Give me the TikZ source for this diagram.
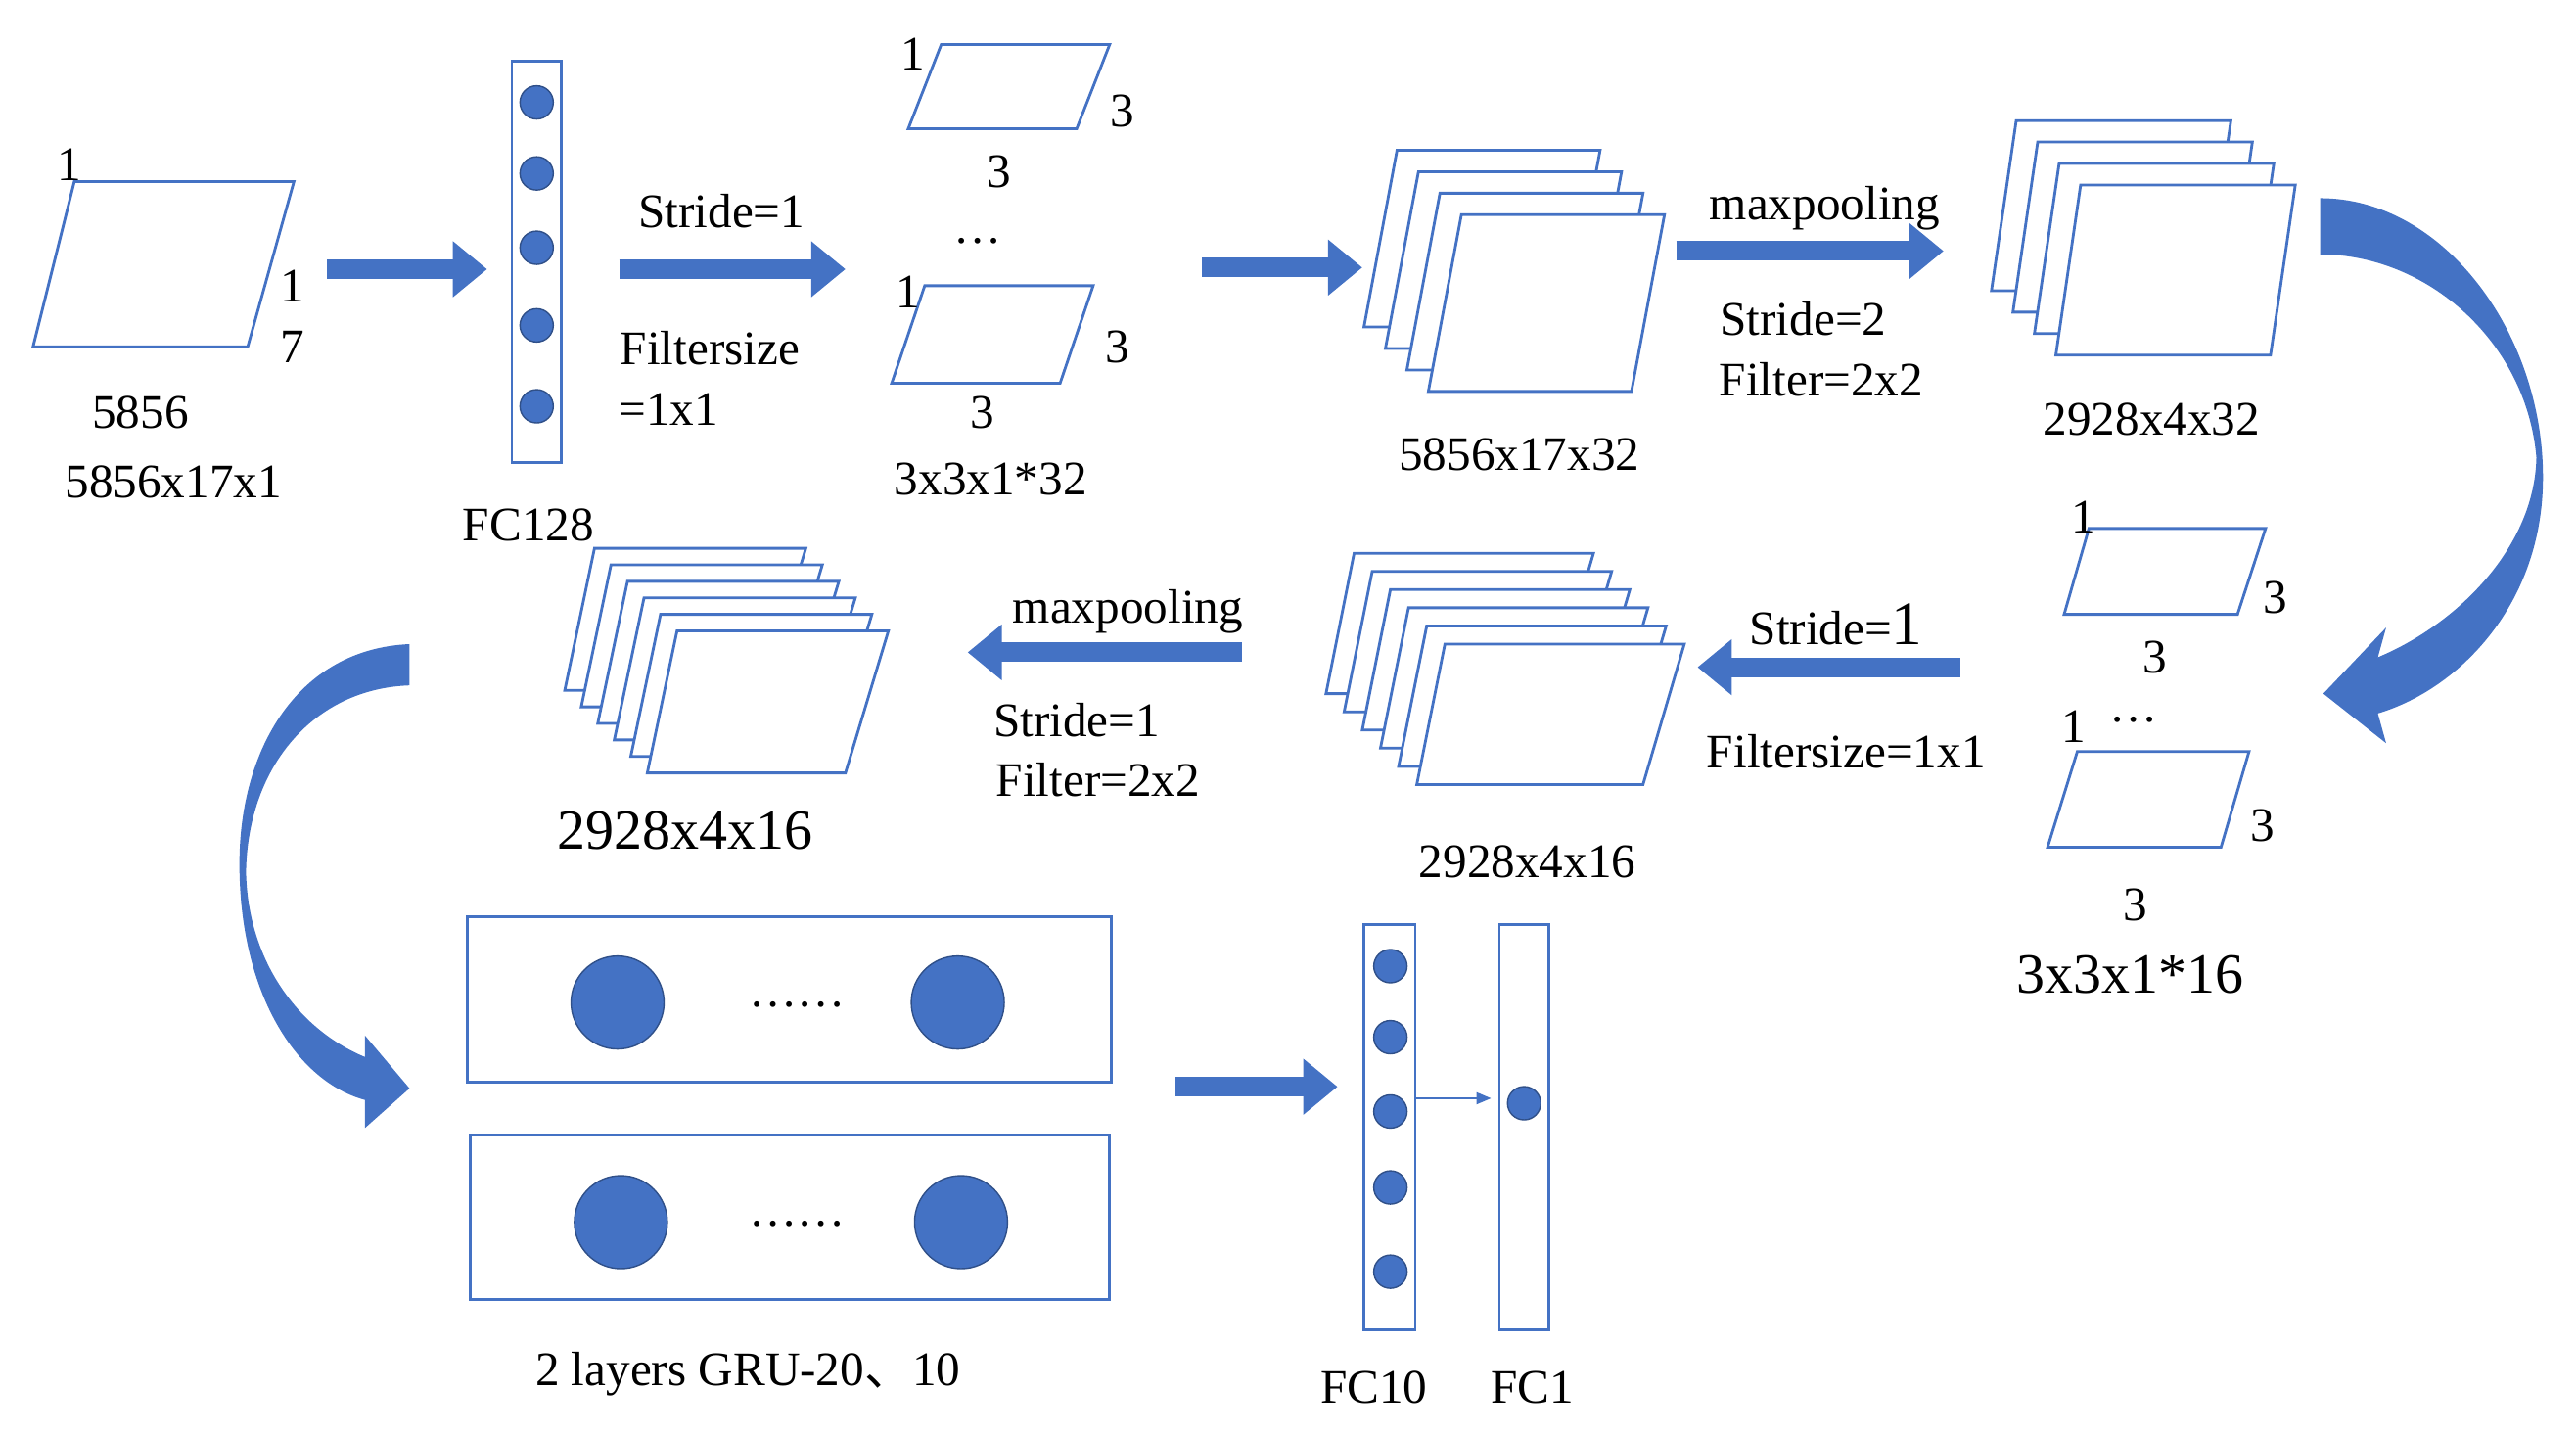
\documentclass[tikz,border=0pt]{standalone}
\usepackage{fontspec}
\setmainfont{Liberation Serif}
\newfontfamily\cjk{Noto Sans CJK SC}
\usetikzlibrary{positioning,calc,arrows.meta}
\definecolor{nnblue}{HTML}{4472C4}
\begin{document}
\begin{tikzpicture}[
    x=0.016872cm, y=-0.016872cm,
    lbl/.style={font=\fontsize{14}{16}\selectfont, inner sep=1pt},
    biglbl/.style={font=\fontsize{16.5}{18}\selectfont, inner sep=1pt},
    plane/.style={draw=nnblue, fill=white, line width=0.8pt},
    fcbox/.style={draw=nnblue, line width=0.8pt},
    neuron/.style={circle, fill=nnblue, draw=nnblue!70!black, minimum size=0.34cm, inner sep=0pt},
    gru/.style={circle, fill=nnblue, draw=nnblue!70!black, minimum size=0.95cm, inner sep=0pt},
    flow/.style={nnblue, line width=0.2cm, -{Triangle[length=0.35cm, width=0.55cm]}},
    thinflow/.style={nnblue, line width=0.6pt, -{Triangle[length=0.15cm, width=0.12cm]}}
]
\useasboundingbox (0,0) rectangle (1560,870);

% input plane
\draw[plane] (20,210) -- (45,110) -- (178,110) -- (150,210) -- cycle;
\node[lbl] at (42,100) {1};
\node[lbl] at (177,173) {1};
\node[lbl] at (177,210) {7};
\node[lbl] (in1) at (85,250) {5856};
\node[lbl] (in2) at (105,292) {5856x17x1};

% FC128
\draw[fcbox] (310,37) rectangle (340,280);
\foreach \y [count=\i] in {62,105,150,197,246}
  \node[neuron] (fa\i) at (325,\y) {};
\node[lbl] (fc128) at (320,318) {FC128};

% conv filters 32
\draw[plane] (550,78) -- (570,27) -- (672,27) -- (652,78) -- cycle;
\node[lbl] at (553,33) {1};
\node[lbl] at (680,67) {3};
\node[lbl] at (605,104) {3};
\node[lbl] at (592,146) {\dots};
\draw[plane] (540,232) -- (560,173) -- (662,173) -- (642,232) -- cycle;
\node[lbl] at (550,177) {1};
\node[lbl] at (677,210) {3};
\node[lbl] at (595,250) {3};
\node[lbl] (k32) at (600,290) {3x3x1*32};

% feature maps 5856x17x32
\foreach \k in {3,2,1,0}
  \draw[plane] ($(865,237)+(-13*\k,-13*\k)$) -- ++(20,-107) -- ++(123,0) -- ++(-20,107) -- cycle;
\node[lbl] (m1) at (920,275) {5856x17x32};

% pooled 2928x4x32
\foreach \k in {3,2,1,0}
  \draw[plane] ($(1245,215)+(-13*\k,-13*\k)$) -- ++(15,-103) -- ++(130,0) -- ++(-15,103) -- cycle;
\node[lbl] (m2) at (1303,254) {2928x4x32};

% conv filters 16
\draw[plane] (1250,372) -- (1265,320) -- (1372,320) -- (1355,372) -- cycle;
\node[lbl] at (1262,313) {1};
\node[lbl] at (1378,362) {3};
\node[lbl] at (1305,398) {3};
\node[lbl] at (1256,440) {1};
\node[lbl] at (1292,436) {\dots};
\draw[plane] (1240,513) -- (1258,455) -- (1362,455) -- (1345,513) -- cycle;
\node[lbl] at (1370,500) {3};
\node[lbl] at (1293,548) {3};
\node[biglbl] (k16) at (1290,590) {3x3x1*16};

% feature maps 2928x4x16
\foreach \k in {5,4,3,2,1,0}
  \draw[plane] ($(858,475)+(-11*\k,-11*\k)$) -- ++(17,-85) -- ++(145,0) -- ++(-25,85) -- cycle;
\node[lbl] (m3) at (925,522) {2928x4x16};

% pooled 2928x4x16
\foreach \k in {5,4,3,2,1,0}
  \draw[plane] ($(392,468)+(-10*\k,-10*\k)$) -- ++(18,-86) -- ++(128,0) -- ++(-26,86) -- cycle;
\node[biglbl] (m4) at (415,503) {2928x4x16};

% GRU layers
\draw[fcbox] (283,555) rectangle (673,655);
\draw[fcbox] (285,687) rectangle (672,787);
\node[gru] (g11) at (374,607) {};
\node[gru] (g12) at (580,607) {};
\node[gru] (g21) at (376,740) {};
\node[gru] (g22) at (582,740) {};
\node[lbl] at (483,608) {\dots\dots};
\node[lbl] at (483,741) {\dots\dots};
\node[lbl] (grul) at (453,832) {2 layers GRU-20{\cjk 、}10};

% FC10 and FC1
\draw[fcbox] (826,560) rectangle (857,805);
\foreach \y [count=\i] in {585,628,673,719,770}
  \node[neuron] (fb\i) at (842,\y) {};
\draw[fcbox] (908,560) rectangle (938,805);
\node[neuron] (fo) at (923,668) {};
\node[lbl] (fc10) at (832,840) {FC10};
\node[lbl] (fc1) at (928,840) {FC1};

% straight arrows
\coordinate (a1s) at (198,163); \coordinate (a1e) at (295,163);
\coordinate (a2s) at (375,163); \coordinate (a2e) at (512,163);
\coordinate (a3s) at (728,162); \coordinate (a3e) at (825,162);
\coordinate (a4s) at (1015,152); \coordinate (a4e) at (1177,152);
\coordinate (a5s) at (1187,404); \coordinate (a5e) at (1028,404);
\coordinate (a6s) at (752,395); \coordinate (a6e) at (586,395);
\coordinate (a7s) at (712,658); \coordinate (a7e) at (810,658);
\draw[flow] (a1s) -- (a1e);
\draw[flow] (a2s) -- (a2e);
\draw[flow] (a3s) -- (a3e);
\draw[flow] (a4s) -- (a4e);
\draw[flow] (a5s) -- (a5e);
\draw[flow] (a6s) -- (a6e);
\draw[flow] (a7s) -- (a7e);
\coordinate (fcin) at (903,665);
\draw[thinflow] (857,665) -- (fcin);

% arrow labels
\node[lbl] at (437,128) {Stride=1};
\node[lbl] at (430,211) {Filtersize};
\node[lbl] at (405,248) {=1x1};
\node[lbl] at (1105,126) {maxpooling};
\node[lbl] at (1092,193) {Stride=2};
\node[lbl] at (1103,230) {Filter=2x2};
\node[lbl] at (1112,378) {Stride={\fontsize{18}{20}\selectfont 1}};
\node[lbl] at (1118,455) {Filtersize=1x1};
\node[lbl] at (683,370) {maxpooling};
\node[lbl] at (652,436) {Stride=1};
\node[lbl] at (665,472) {Filter=2x2};

% curved arrows
\fill[nnblue] (1405,120) .. controls (1480,120) and (1540,202) .. (1540,289)
  .. controls (1540,365) and (1490,417) .. (1440,432)
  -- (1445,450) -- (1407,420) -- (1445,380) -- (1440,398)
  .. controls (1490,377) and (1535,330) .. (1536,277)
  .. controls (1530,207) and (1470,154) .. (1405,154) -- cycle;
\fill[nnblue] (248,390) .. controls (180,393) and (145,454) .. (145,523)
  .. controls (145,602) and (180,655) .. (221,666)
  -- (221,683) -- (248,659) -- (221,627) -- (221,640)
  .. controls (180,623) and (150,581) .. (149,528)
  .. controls (150,464) and (190,417) .. (248,415) -- cycle;
\end{tikzpicture}
\end{document}
